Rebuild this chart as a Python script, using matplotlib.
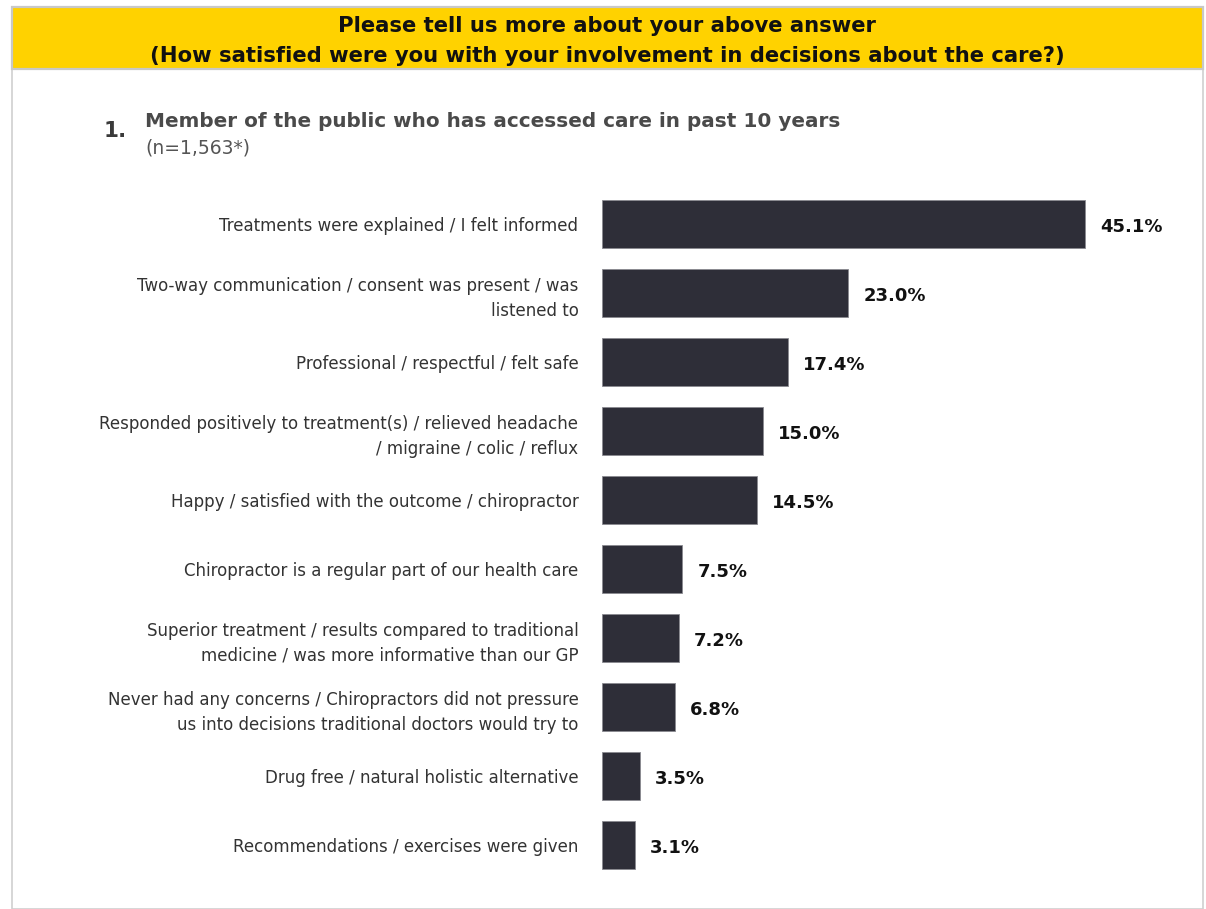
import matplotlib
matplotlib.use("Agg")
import matplotlib.pyplot as plt
from matplotlib.patches import Rectangle

# data
categories = [
    "Treatments were explained / I felt informed",
    "Two-way communication / consent was present / was\nlistened to",
    "Professional / respectful / felt safe",
    "Responded positively to treatment(s) / relieved headache\n/ migraine / colic / reflux",
    "Happy / satisfied with the outcome / chiropractor",
    "Chiropractor is a regular part of our health care",
    "Superior treatment / results compared to traditional\nmedicine / was more informative than our GP",
    "Never had any concerns / Chiropractors did not pressure\nus into decisions traditional doctors would try to",
    "Drug free / natural holistic alternative",
    "Recommendations / exercises were given",
]
values = [45.1, 23.0, 17.4, 15.0, 14.5, 7.5, 7.2, 6.8, 3.5, 3.1]
value_labels = ["45.1%", "23.0%", "17.4%", "15.0%", "14.5%", "7.5%", "7.2%", "6.8%", "3.5%", "3.1%"]

header = "Please tell us more about your above answer\n(How satisfied were you with your involvement in decisions about the care?)"
section_title = "Member of the public who has accessed care in past 10 years"
section_n = "(n=1,563*)"

W, H = 1206, 909
fig = plt.figure(figsize=(W / 100, H / 100), dpi=100)
fig.patch.set_facecolor("white")

def fx(px):
    return px / W

def fy(py):
    return 1 - py / H

# outer frame + yellow header band
fig.patches.append(Rectangle((fx(12), fy(909)), fx(1203) - fx(12), fy(69) - fy(909),
                             transform=fig.transFigure, facecolor="white",
                             edgecolor="#cfcfcf", linewidth=1.2, zorder=-2))
fig.patches.append(Rectangle((fx(12), fy(69)), fx(1203) - fx(12), fy(7) - fy(69),
                             transform=fig.transFigure, facecolor="#ffd200",
                             edgecolor="#c8c8c8", linewidth=1.6, zorder=-1))
fig.text(fx(607), fy(41), header, ha="center", va="center", fontsize=15.2,
         fontweight="bold", color="#111111", linespacing=1.6)

# section heading
fig.text(fx(104), fy(137), "1.", ha="left", va="baseline", fontsize=15.5,
         fontweight="bold", color="#3a3a3a")
fig.text(fx(145), fy(127), section_title, ha="left", va="baseline", fontsize=14.4,
         fontweight="bold", color="#4a4a4a")
fig.text(fx(145), fy(154), section_n, ha="left", va="baseline", fontsize=13.5,
         color="#555555")

# bar chart
top_px, bot_px = 189.5, 879.5
ax = fig.add_axes([fx(602), fy(bot_px), fx(1202) - fx(602), fy(top_px) - fy(bot_px)])
ypos = list(range(len(values)))
ax.barh(ypos, values, height=0.7, color="#2e2e38", edgecolor="#8a8a90", linewidth=0.6)
ax.set_xlim(0, 56)
ax.set_ylim(len(values) - 0.5, -0.5)
for y, v, lab in zip(ypos, values, value_labels):
    ax.text(v + 1.4, y + 0.05, lab, ha="left", va="center", fontsize=13,
            fontweight="bold", color="#111111")
ax.set_yticks(ypos)
ax.set_yticklabels(categories, fontsize=12, color="#333333", ha="right",
                   linespacing=1.5)
ax.tick_params(axis="y", length=0, pad=17)
ax.set_xticks([])
for s in ax.spines.values():
    s.set_visible(False)
ax.patch.set_alpha(0)

fig.savefig("out.png", dpi=100, facecolor="white")
